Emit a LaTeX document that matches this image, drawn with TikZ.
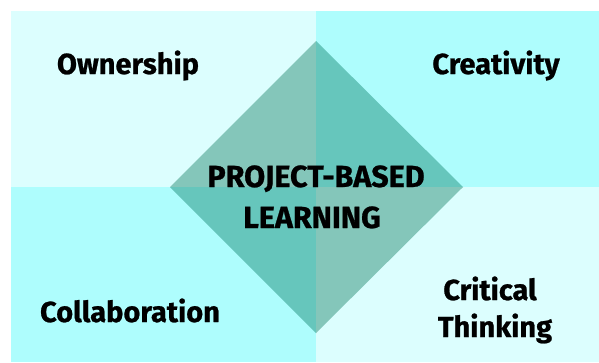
\documentclass[tikz,border=0pt]{standalone}
\usepackage{fontspec}
\setmainfont{Fira Sans}
\newfontfamily\heavyfont{Fira Sans}[UprightFont=* Bold, FakeBold=0.8]
\definecolor{bglight}{HTML}{DCFEFE}
\definecolor{bgcyan}{HTML}{AEFDFD}
\definecolor{dmlight}{HTML}{84C6BA}
\definecolor{dmdark}{HTML}{66C6BC}
\begin{document}
\begin{tikzpicture}[x=1pt,y=-1pt,
  lbl/.style={font=\fontsize{29}{36}\selectfont\heavyfont, text=black, inner sep=0pt, anchor=base, align=center},
  ctr/.style={font=\fontsize{30.5}{40}\selectfont\heavyfont, text=black, inner sep=0pt, anchor=base, align=center}]
\useasboundingbox (0,0) rectangle (599,362);
\fill[white] (0,0) rectangle (599,362);
% quadrants
\fill[bglight] (11,11) rectangle (316,187);
\fill[bgcyan] (316,11) rectangle (599,187);
\fill[bgcyan] (11,187) rectangle (316,362);
\fill[bglight] (316,187) rectangle (599,362);
% diamond
\coordinate (T) at (316,41);
\coordinate (L) at (170,187);
\coordinate (R) at (463,187);
\coordinate (B) at (316,333);
\coordinate (C) at (316,187);
\fill[dmlight] (T) -- (C) -- (L) -- cycle;
\fill[dmdark] (T) -- (R) -- (C) -- cycle;
\fill[dmdark] (L) -- (C) -- (B) -- cycle;
\fill[dmlight] (C) -- (R) -- (B) -- cycle;
% labels
\node[lbl] (own) at (128,74) {Ownership};
\node[lbl] (cre) at (496,74) {Creativity};
\node[ctr] (pbl1) at (316,187) {PROJECT-BASED};
\node[ctr] (pbl2) at (312,228) {LEARNING};
\node[lbl] (col) at (130,322) {Collaboration};
\node[lbl] (cri1) at (490,300) {Critical};
\node[lbl] (cri2) at (495,337) {Thinking};
\end{tikzpicture}
\end{document}
